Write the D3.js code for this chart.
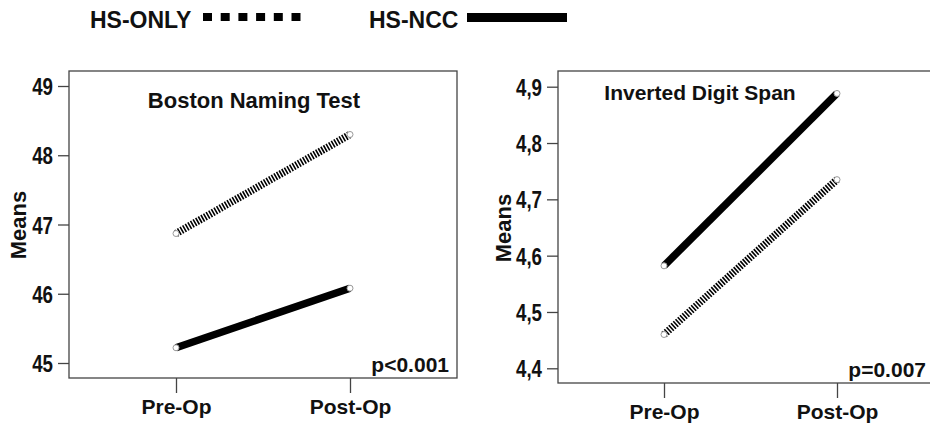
<!DOCTYPE html>
<html>
<head>
<meta charset="utf-8">
<script src="https://cdn.jsdelivr.net/npm/d3@7"></script>
<style>
  body { margin: 0; background: #fff; }
  text { font-family: "Liberation Sans", Arial, sans-serif; font-weight: bold; fill: #111; }
</style>
</head>
<body>
<svg id="chart" width="930" height="425"></svg>
<script>
// data
const groups = ['HS-ONLY', 'HS-NCC'];
const times = ['Pre-Op', 'Post-Op'];
const bntOnly = [46.87, 48.3];
const bntNcc = [45.22, 46.08];
const idsOnly = [4.46, 4.735];
const idsNcc = [4.582, 4.888];
const bntTicks = [45, 46, 47, 48, 49];
const idsTicks = [4.4, 4.5, 4.6, 4.7, 4.8, 4.9];

const svg = d3.select('#chart');

// legend
const legend = svg.append('g');
legend.append('text').attr('x', 90).attr('y', 28).attr('font-size', 23)
  .attr('font-family', '"Open Sans", sans-serif').text(groups[0]);
legend.append('line').attr('x1', 203).attr('x2', 304).attr('y1', 17).attr('y2', 17)
  .attr('stroke', '#000').attr('stroke-width', 8).attr('stroke-dasharray', '9,8.7');
legend.append('text').attr('x', 369).attr('y', 28).attr('font-size', 23)
  .attr('font-family', '"Open Sans", sans-serif').text(groups[1]);
legend.append('line').attr('x1', 467).attr('x2', 567).attr('y1', 17.5).attr('y2', 17.5)
  .attr('stroke', '#000').attr('stroke-width', 9);

const squeeze = 0.78; // tick digits in the figure are tall and narrow

function panel(opt) {
  const g = svg.append('g');
  const x = d3.scalePoint().domain(times).range(opt.xr);
  const y = d3.scaleLinear().domain(opt.yd).range(opt.yr);

  // frame
  g.append('rect')
    .attr('x', opt.box[0]).attr('y', opt.box[1])
    .attr('width', opt.box[2] - opt.box[0]).attr('height', opt.box[3] - opt.box[1])
    .attr('fill', 'none').attr('stroke', '#444').attr('stroke-width', 1.3);

  // y axis
  const ya = g.append('g').attr('transform', `translate(${opt.box[0]},0)`)
    .call(d3.axisLeft(y).tickValues(opt.ticks).tickSize(11).tickPadding(4)
      .tickFormat(opt.fmt));
  ya.select('.domain').remove();
  ya.selectAll('line').attr('stroke', '#444').attr('stroke-width', 1.3);
  ya.selectAll('text').attr('font-size', 24)
    .attr('font-weight', 'bold').attr('fill', '#111').attr('dy', '0.36em')
    .attr('x', -16 / squeeze).attr('transform', `scale(${squeeze},1)`);

  // x axis
  const xa = g.append('g').attr('transform', `translate(0,${opt.box[3]})`)
    .call(d3.axisBottom(x).tickSize(15).tickPadding(6));
  xa.select('.domain').remove();
  xa.selectAll('line').attr('stroke', '#444').attr('stroke-width', 1.3);
  xa.selectAll('text').attr('font-size', 21).attr('font-family', '"Liberation Sans", Arial, sans-serif')
    .attr('font-weight', 'bold').attr('fill', '#111').attr('dy', '0.71em');

  g.append('text')
    .attr('transform', `translate(${opt.meansX},${opt.meansY}) rotate(-90)`)
    .attr('text-anchor', 'middle').attr('font-size', 22).text('Means');

  g.append('text').attr('x', opt.titleX).attr('y', opt.titleY)
    .attr('text-anchor', 'middle').attr('font-size', opt.titleSize).text(opt.title);

  g.append('text').attr('x', opt.pX).attr('y', opt.pY)
    .attr('text-anchor', 'end').attr('font-size', 21).text(opt.p);

  const line = d3.line().x((d, i) => x(times[i])).y(d => y(d));
  const series = [
    { vals: opt.only, dash: '1.6,1.4' },
    { vals: opt.ncc, dash: null }
  ];
  series.forEach(s => {
    g.append('path').datum(s.vals).attr('d', line)
      .attr('fill', 'none').attr('stroke', '#000').attr('stroke-width', 7.5)
      .attr('stroke-dasharray', s.dash);
    g.selectAll(null).data(s.vals).enter().append('circle')
      .attr('cx', (d, i) => x(times[i])).attr('cy', d => y(d)).attr('r', 3)
      .attr('fill', '#fff').attr('stroke', '#999').attr('stroke-width', 1);
  });
}

panel({
  xr: [176, 350], yd: [45, 49], yr: [363, 86], box: [69, 71, 457, 378],
  ticks: bntTicks, fmt: d3.format('d'),
  only: bntOnly, ncc: bntNcc,
  title: 'Boston Naming Test', titleX: 254, titleY: 108, titleSize: 22,
  p: 'p<0.001', pX: 449, pY: 372,
  meansX: 26, meansY: 225
});

panel({
  xr: [664, 837], yd: [4.4, 4.9], yr: [368.3, 86.7], box: [558, 71, 936, 383],
  ticks: idsTicks, fmt: d => d3.format('.1f')(d).replace('.', ','),
  only: idsOnly, ncc: idsNcc,
  title: 'Inverted Digit Span', titleX: 700, titleY: 100, titleSize: 21,
  p: 'p=0.007', pX: 926, pY: 377,
  meansX: 511, meansY: 228
});
</script>
</body>
</html>
